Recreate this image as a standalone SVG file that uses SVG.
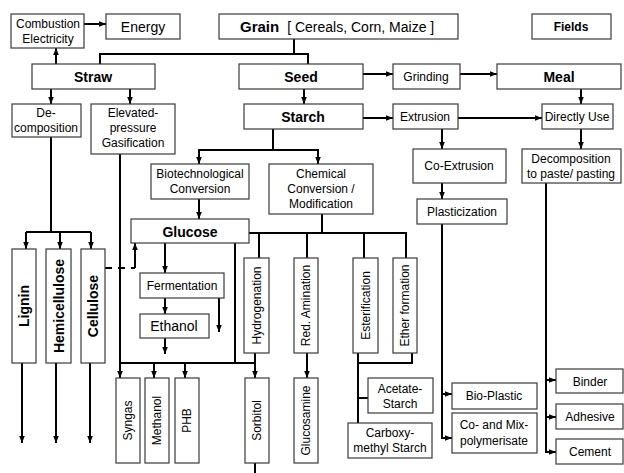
<svg xmlns="http://www.w3.org/2000/svg" width="624" height="473" viewBox="0 0 624 473">
<style>
.b{fill:#fff;stroke:#3a3a3a;stroke-width:1.2}
.t{font-family:"Liberation Sans",Arial,sans-serif;font-size:12px;fill:#000;text-anchor:middle}
.m{font-size:14px}
.h{font-weight:bold;font-size:14px}
.c{fill:none;stroke:#000;stroke-width:2}
.ar{marker-end:url(#a)}
</style>
<defs>
<marker id="a" viewBox="0 0 10 10" refX="10" refY="5" markerWidth="7" markerHeight="7" markerUnits="userSpaceOnUse" orient="auto">
<path d="M0,1 L10,5 L0,9 z" fill="#000"/>
</marker>
</defs>
<rect width="624" height="473" fill="#fff"/>
<g id="connectors">
<path class="c ar" d="M56,64 V48"/>
<path class="c ar" d="M84,24 H106"/>
<path class="c" d="M294,39 V54 M100,64 V54 H308 V64"/>
<path class="c ar" d="M363,74 H393"/>
<path class="c ar" d="M460,74 H497"/>
<path class="c ar" d="M304,89 V104"/>
<path class="c ar" d="M363,118 H393"/>
<path class="c ar" d="M458,118 H542"/>
<path class="c ar" d="M581,89 V104"/>
<path class="c ar" d="M581,129 V149"/>
<path class="c ar" d="M442,129 V149"/>
<path class="c ar" d="M442,183 V199"/>
<path class="c ar" d="M442,224 V438 H452"/>
<path class="c ar" d="M442,394 H452"/>
<path class="c ar" d="M546,183 V452 H556"/>
<path class="c ar" d="M546,380 H556"/>
<path class="c ar" d="M546,417 H556"/>
<path class="c ar" d="M51,89 V104"/>
<path class="c ar" d="M130,89 V104"/>
<path class="c" d="M51,137 V232 M26,232 H91"/>
<path class="c ar" d="M26,232 V249"/>
<path class="c ar" d="M60,232 V249"/>
<path class="c ar" d="M91,232 V249"/>
<path class="c ar" d="M22,363 V443"/>
<path class="c ar" d="M56,363 V443"/>
<path class="c ar" d="M90,363 V443"/>
<path class="c" d="M105,268 H135" stroke-dasharray="7,6"/>
<path class="c ar" d="M135,268 V243"/>
<path class="c ar" d="M120,154 V378"/>
<path class="c" d="M120,363 H255"/>
<path class="c ar" d="M154,363 V378"/>
<path class="c ar" d="M185,363 V378"/>
<path class="c" d="M273,129 V150"/>
<path class="c ar" d="M273,150 H199 V164"/>
<path class="c ar" d="M273,150 H318 V164"/>
<path class="c ar" d="M199,199 V219"/>
<path class="c ar" d="M165,243 V273"/>
<path class="c ar" d="M165,298 V314"/>
<path class="c ar" d="M165,338 V354"/>
<path class="c ar" d="M219,298 V332"/>
<path class="c" d="M235,243 V363"/>
<path class="c" d="M249,233 H406 V258 M259,233 V258 M307,233 V258 M364,233 V258 M322,214 V233"/>
<path class="c ar" d="M255,353 V378"/>
<path class="c ar" d="M307,353 V378"/>
<path class="c" d="M255,463 V473"/>
<path class="c" d="M358,353 V423 M358,398 H368 M358,363 H412 V353"/>
</g>
<g id="combustion"><rect class="b" x="11" y="14" width="73" height="34"/><text class="t" x="48" y="28">Combustion</text><text class="t" x="48" y="43">Electricity</text></g>
<g id="energy"><rect class="b" x="106" y="14" width="74" height="25"/><text class="t m" x="143" y="32">Energy</text></g>
<g id="grain"><rect class="b" x="219" y="14" width="239" height="25"/><text class="t" x="240" y="32" style="text-anchor:start"><tspan font-weight="bold" font-size="15">Grain</tspan><tspan font-size="14" dx="8">[ Cereals, Corn, Maize ]</tspan></text></g>
<g id="fields"><rect class="b" x="532" y="14" width="79" height="25"/><text class="t" x="571" y="31" font-weight="bold">Fields</text></g>
<g id="straw"><rect class="b" x="32" y="64" width="123" height="25"/><text class="t h" x="93" y="82">Straw</text></g>
<g id="seed"><rect class="b" x="239" y="64" width="124" height="25"/><text class="t h" x="301" y="82">Seed</text></g>
<g id="grinding"><rect class="b" x="393" y="64" width="67" height="25"/><text class="t" x="426" y="81">Grinding</text></g>
<g id="meal"><rect class="b" x="497" y="64" width="124" height="25"/><text class="t h" x="559" y="82">Meal</text></g>
<g id="starch"><rect class="b" x="244" y="104" width="119" height="25"/><text class="t h" x="303" y="122">Starch</text></g>
<g id="extrusion"><rect class="b" x="393" y="104" width="65" height="25"/><text class="t" x="425" y="121">Extrusion</text></g>
<g id="directly"><rect class="b" x="542" y="104" width="71" height="25"/><text class="t" x="577" y="121">Directly Use</text></g>
<g id="decomposition"><rect class="b" x="12" y="104" width="69" height="33"/><text class="t" x="46" y="117">De-</text><text class="t" x="46" y="132">composition</text></g>
<g id="gasification"><rect class="b" x="91" y="104" width="84" height="50"/><text class="t" x="133" y="117">Elevated-</text><text class="t" x="133" y="132">pressure</text><text class="t" x="133" y="147">Gasification</text></g>
<g id="biotech"><rect class="b" x="151" y="164" width="98" height="35"/><text class="t" x="200" y="178">Biotechnological</text><text class="t" x="200" y="193">Conversion</text></g>
<g id="chemical"><rect class="b" x="269" y="164" width="104" height="50"/><text class="t" x="321" y="178">Chemical</text><text class="t" x="321" y="193">Conversion /</text><text class="t" x="321" y="208">Modification</text></g>
<g id="coextrusion"><rect class="b" x="413" y="149" width="93" height="34"/><text class="t" x="459" y="170">Co-Extrusion</text></g>
<g id="paste"><rect class="b" x="522" y="149" width="99" height="34"/><text class="t" x="571" y="163">Decomposition</text><text class="t" x="571" y="178">to paste/ pasting</text></g>
<g id="plasticization"><rect class="b" x="417" y="199" width="90" height="25"/><text class="t" x="462" y="216">Plasticization</text></g>
<g id="glucose"><rect class="b" x="131" y="219" width="118" height="24"/><text class="t h" x="190" y="237">Glucose</text></g>
<g id="fermentation"><rect class="b" x="140" y="273" width="84" height="25"/><text class="t" x="182" y="290">Fermentation</text></g>
<g id="ethanol"><rect class="b" x="140" y="314" width="69" height="24"/><text class="t m" x="174" y="331">Ethanol</text></g>
<g id="lignin"><rect class="b" x="12" y="249" width="24" height="114"/><text class="t h" transform="translate(24,306) rotate(-90)" y="5">Lignin</text></g>
<g id="hemicellulose"><rect class="b" x="46" y="249" width="25" height="114"/><text class="t h" transform="translate(58.5,306) rotate(-90)" y="5">Hemicellulose</text></g>
<g id="cellulose"><rect class="b" x="81" y="249" width="24" height="114"/><text class="t h" transform="translate(93,306) rotate(-90)" y="5">Cellulose</text></g>
<g id="hydrogenation"><rect class="b" x="244" y="258" width="25" height="95"/><text class="t" transform="translate(256.5,305.5) rotate(-90)" y="4">Hydrogenation</text></g>
<g id="amination"><rect class="b" x="294" y="258" width="24" height="95"/><text class="t" transform="translate(306,305.5) rotate(-90)" y="4">Red. Amination</text></g>
<g id="esterification"><rect class="b" x="353" y="258" width="25" height="95"/><text class="t" transform="translate(365.5,305.5) rotate(-90)" y="4">Esterification</text></g>
<g id="ether"><rect class="b" x="393" y="258" width="24" height="95"/><text class="t" transform="translate(405,305.5) rotate(-90)" y="4">Ether formation</text></g>
<g id="syngas"><rect class="b" x="116" y="378" width="24" height="85"/><text class="t" transform="translate(128,420.5) rotate(-90)" y="4">Syngas</text></g>
<g id="methanol"><rect class="b" x="145" y="378" width="24" height="85"/><text class="t" transform="translate(157,420.5) rotate(-90)" y="4">Methanol</text></g>
<g id="phb"><rect class="b" x="175" y="378" width="24" height="85"/><text class="t" transform="translate(187,420.5) rotate(-90)" y="4">PHB</text></g>
<g id="sorbitol"><rect class="b" x="245" y="378" width="24" height="85"/><text class="t" transform="translate(257,420.5) rotate(-90)" y="4">Sorbitol</text></g>
<g id="glucosamine"><rect class="b" x="294" y="378" width="24" height="85"/><text class="t" transform="translate(306,420.5) rotate(-90)" y="4">Glucosamine</text></g>
<g id="acetate"><rect class="b" x="368" y="378" width="65" height="35"/><text class="t" x="400" y="393">Acetate-</text><text class="t" x="400" y="408">Starch</text></g>
<g id="carboxy"><rect class="b" x="348" y="423" width="84" height="35"/><text class="t" x="390" y="437">Carboxy-</text><text class="t" x="390" y="452">methyl Starch</text></g>
<g id="bioplastic"><rect class="b" x="452" y="383" width="85" height="26"/><text class="t" x="494" y="400">Bio-Plastic</text></g>
<g id="copolymer"><rect class="b" x="452" y="413" width="85" height="40"/><text class="t" x="494" y="429">Co- and Mix-</text><text class="t" x="494" y="445">polymerisate</text></g>
<g id="binder"><rect class="b" x="556" y="369" width="67" height="24"/><text class="t" x="590" y="386">Binder</text></g>
<g id="adhesive"><rect class="b" x="556" y="404" width="67" height="25"/><text class="t" x="590" y="421">Adhesive</text></g>
<g id="cement"><rect class="b" x="556" y="439" width="67" height="25"/><text class="t" x="590" y="456">Cement</text></g>
</svg>
